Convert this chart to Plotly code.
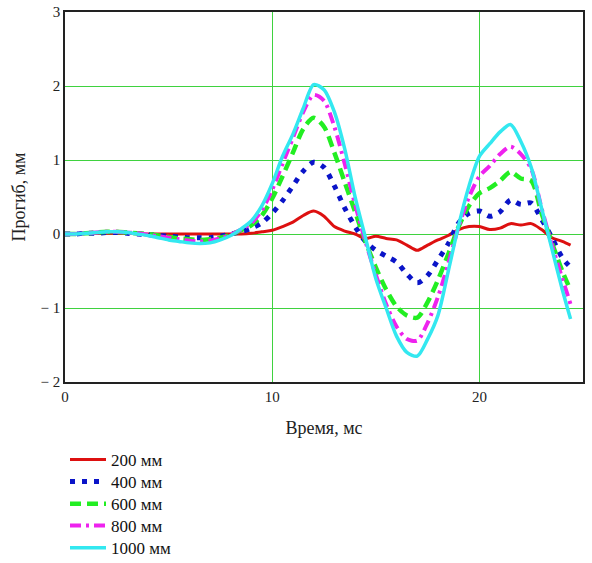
import plotly.graph_objects as go

time_ms = [0, 0.5, 1, 1.5, 2, 2.5, 3, 3.5, 4, 4.5, 5, 5.5, 6, 6.5, 7, 7.5, 8, 8.5, 9, 9.5,
           10, 10.5, 11, 11.5, 12, 12.5, 13, 13.5, 14, 14.5, 15, 15.5, 16, 16.5, 17, 17.5,
           18, 18.5, 19, 19.5, 20, 20.5, 21, 21.5, 22, 22.5, 23, 23.5, 24, 24.4]

d200 = [0, 0, 0.01, 0.01, 0.01, 0.01, 0.01, 0, 0, 0, 0, 0, 0, 0, 0, 0, 0, 0, 0.01, 0.03,
        0.05, 0.1, 0.16, 0.25, 0.31, 0.24, 0.1, 0.04, 0.0, -0.06, -0.03, -0.06, -0.08, -0.15, -0.22, -0.15,
        -0.08, -0.02, 0.06, 0.1, 0.1, 0.06, 0.08, 0.14, 0.12, 0.14, 0.06, -0.05, -0.1, -0.15]

d400 = [0, 0, 0.01, 0.01, 0.02, 0.02, 0.01, 0, -0.01, -0.02, -0.03, -0.04, -0.05, -0.05, -0.05, -0.03, 0, 0.03, 0.08, 0.15,
        0.28, 0.45, 0.65, 0.85, 0.97, 0.9, 0.65, 0.35, 0.1, -0.1, -0.22, -0.3, -0.38, -0.54, -0.66, -0.56,
        -0.35, -0.13, 0.15, 0.28, 0.31, 0.24, 0.3, 0.46, 0.4, 0.42, 0.2, -0.05, -0.32, -0.45]

d600 = [0, 0, 0.01, 0.02, 0.03, 0.03, 0.02, 0.01, 0, -0.02, -0.04, -0.06, -0.07, -0.08, -0.07, -0.05, -0.01, 0.05, 0.12, 0.25,
        0.48, 0.78, 1.1, 1.42, 1.57, 1.45, 1.1, 0.7, 0.3, -0.1, -0.45, -0.75, -0.98, -1.1, -1.13, -0.92,
        -0.62, -0.27, 0.1, 0.38, 0.55, 0.62, 0.72, 0.84, 0.75, 0.72, 0.28, -0.12, -0.5, -0.76]

d800 = [0, 0, 0.01, 0.02, 0.03, 0.03, 0.02, 0.01, -0.01, -0.03, -0.05, -0.07, -0.09, -0.1, -0.09, -0.06, -0.01, 0.06, 0.15, 0.32,
        0.6, 0.95, 1.3, 1.65, 1.88, 1.8, 1.45, 0.95, 0.4, -0.1, -0.55, -0.95, -1.25, -1.42, -1.44, -1.2,
        -0.85, -0.4, 0.1, 0.5, 0.78, 0.92, 1.08, 1.18, 1.08, 0.88, 0.35, -0.15, -0.6, -0.95]

d1000 = [0, 0, 0.01, 0.02, 0.03, 0.03, 0.02, 0, -0.02, -0.05, -0.08, -0.1, -0.12, -0.13, -0.12, -0.08, -0.02, 0.07, 0.18, 0.38,
         0.68, 1.05, 1.35, 1.7, 2.02, 1.95, 1.65, 1.15, 0.5, -0.05, -0.6, -1.0, -1.38, -1.6, -1.65, -1.42,
         -1.1, -0.5, 0.12, 0.65, 1.05, 1.22, 1.38, 1.48, 1.25, 0.9, 0.35, -0.2, -0.75, -1.15]

series_names = ["200 мм", "400 мм", "600 мм", "800 мм", "1000 мм"]
series_data = [d200, d400, d600, d800, d1000]
colors = ["#dd1010", "#0a14c8", "#22ee22", "#ee22ee", "#33e8f0"]
dashes = ["solid", "5px,7px", "11px,6px", "11px,5px,3px,5px", "solid"]
widths = [3, 5, 4.5, 4, 3.5]

serif = "Liberation Serif"
legend_ids = ["legend", "legend2", "legend3", "legend4", "legend5"]
legend_y = [-0.211, -0.270, -0.330, -0.389, -0.449]

fig = go.Figure()
for name, ys, c, d, w, lg in zip(series_names, series_data, colors, dashes, widths, legend_ids):
    fig.add_trace(go.Scatter(x=time_ms, y=ys, mode="lines", name=name, legend=lg,
                             line=dict(color=c, dash=d, width=w, shape="spline", smoothing=0.8)))

legend_layout = {}
for lg, ly in zip(legend_ids, legend_y):
    legend_layout[lg] = dict(x=0.0, y=ly, xanchor="left", yanchor="middle",
                             font=dict(family=serif, size=17, color="#111111"),
                             bgcolor="rgba(0,0,0,0)", itemwidth=36)

y_ticks = [-2, -1, 0, 1, 2, 3]
y_ticktext = ["− 2", "− 1", "0", "1", "2", "3"]
x_ticks = [0, 10, 20]

fig.update_layout(
    width=592, height=563,
    margin=dict(l=65, r=9, t=12, b=181, autoexpand=False),
    paper_bgcolor="white", plot_bgcolor="white",
    font=dict(family=serif, size=15, color="#222222"),
    showlegend=True,
    xaxis=dict(range=[0, 25], tickvals=x_ticks, showgrid=True, gridcolor="#3fd23f", gridwidth=1,
               zeroline=False, showline=True, linecolor="#222222", linewidth=1.5, mirror=True,
               ticks="", tickfont=dict(family=serif, size=15), automargin=False,
               title=dict(text="Время, мс", font=dict(family=serif, size=18), standoff=18)),
    yaxis=dict(range=[-2, 3], tickvals=y_ticks, ticktext=y_ticktext, showgrid=True,
               gridcolor="#3fd23f", gridwidth=1, zeroline=False, showline=True,
               linecolor="#222222", linewidth=1.5, mirror=True, ticks="", automargin=False,
               tickfont=dict(family=serif, size=15),
               title=dict(text="Прогиб, мм", font=dict(family=serif, size=18), standoff=10)),
    **legend_layout,
)

fig.write_html("out.html")
